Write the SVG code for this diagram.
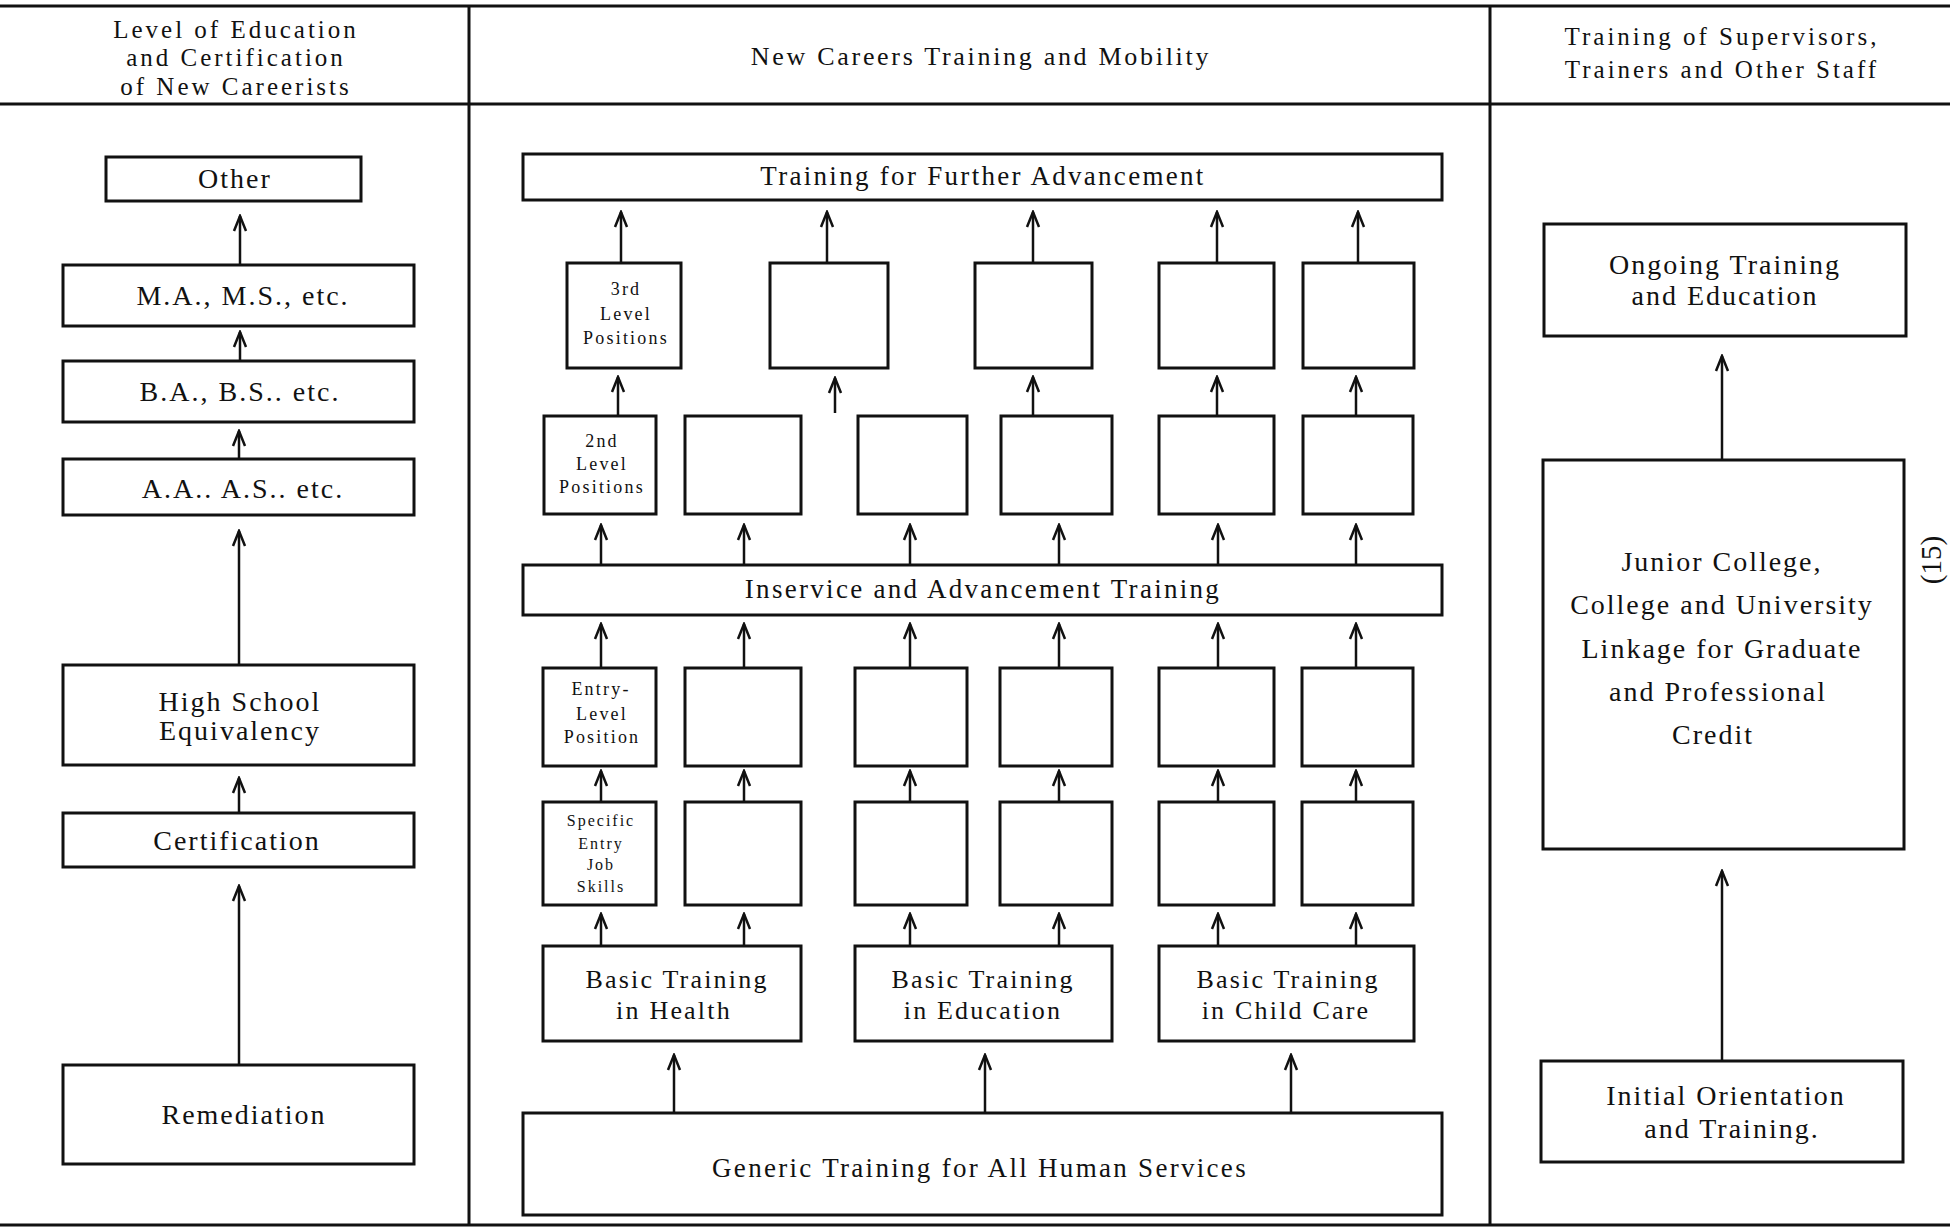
<svg xmlns="http://www.w3.org/2000/svg" width="1950" height="1229" viewBox="0 0 1950 1229">
<defs>
<style>
text{font-family:"Liberation Serif","Times New Roman",serif;fill:#111;text-anchor:middle}
.b{fill:#fff;stroke:#111;stroke-width:3}
.rule{stroke:#111;stroke-width:3;fill:none}
.c{stroke:#111;stroke-width:2.5;fill:none;marker-end:url(#ah)}
.H{font-size:25px;letter-spacing:3px}
.HC{font-size:26px;letter-spacing:2.7px}
.L{font-size:28px;letter-spacing:2px}
.M{font-size:27px;letter-spacing:2.3px}
.BT{font-size:26px;letter-spacing:2.2px}
.S{font-size:18px;letter-spacing:2.2px}
.SS{font-size:16px;letter-spacing:2px}
</style>
<marker id="ah" markerUnits="userSpaceOnUse" markerWidth="20" markerHeight="18" viewBox="-18 -9 20 18" refX="0" refY="0" orient="auto">
<path d="M-15,-6 L0,0 L-15,6" fill="none" stroke="#111" stroke-width="2.5"/>
</marker>
</defs>
<rect width="1950" height="1229" fill="#fff"/>

<g id="frame">
<line class="rule" x1="0" y1="6" x2="1950" y2="6"/>
<line class="rule" x1="0" y1="104" x2="1950" y2="104"/>
<line class="rule" x1="0" y1="1225" x2="1950" y2="1225"/>
<line class="rule" x1="469" y1="6" x2="469" y2="1225"/>
<line class="rule" x1="1490" y1="6" x2="1490" y2="1225"/>
</g>

<g id="headers">
<text class="H" x="236" y="38">Level of Education</text>
<text class="H" x="236" y="66">and Certification</text>
<text class="H" x="236" y="95">of New Careerists</text>
<text class="HC" x="981" y="65">New Careers Training and Mobility</text>
<text class="H" x="1722" y="45">Training of Supervisors,</text>
<text class="H" x="1722" y="78">Trainers and Other Staff</text>
<text font-size="29" transform="translate(1941,560) rotate(-90)" x="0" y="0">(15)</text>
</g>

<g id="left-column">
<g id="n-other"><rect class="b" x="106" y="157" width="255" height="44"/><text class="L" x="235" y="188">Other</text></g>
<g id="n-ma"><rect class="b" x="63" y="265" width="351" height="61"/><text class="L" x="243" y="305">M.A., M.S., etc.</text></g>
<g id="n-ba"><rect class="b" x="63" y="361" width="351" height="61"/><text class="L" x="240" y="401">B.A., B.S.. etc.</text></g>
<g id="n-aa"><rect class="b" x="63" y="459" width="351" height="56"/><text class="L" x="243" y="498">A.A.. A.S.. etc.</text></g>
<g id="n-hse"><rect class="b" x="63" y="665" width="351" height="100"/><text class="L" x="240" y="711">High School</text><text class="L" x="240" y="740">Equivalency</text></g>
<g id="n-cert"><rect class="b" x="63" y="813" width="351" height="54"/><text class="L" x="237" y="850">Certification</text></g>
<g id="n-rem"><rect class="b" x="63" y="1065" width="351" height="99"/><text class="L" x="244" y="1124">Remediation</text></g>
</g>

<g id="center-column">
<g id="n-tfa"><rect class="b" x="523" y="154" width="919" height="46"/><text class="M" x="983" y="185">Training for Further Advancement</text></g>

<g id="n-3rd-1"><rect class="b" x="567" y="263" width="114" height="105"/><text class="S" x="626" y="295">3rd</text><text class="S" x="626" y="320">Level</text><text class="S" x="626" y="344">Positions</text></g>
<g id="n-3rd-2"><rect class="b" x="770" y="263" width="118" height="105"/></g>
<g id="n-3rd-3"><rect class="b" x="975" y="263" width="117" height="105"/></g>
<g id="n-3rd-4"><rect class="b" x="1159" y="263" width="115" height="105"/></g>
<g id="n-3rd-5"><rect class="b" x="1303" y="263" width="111" height="105"/></g>

<g id="n-2nd-1"><rect class="b" x="544" y="416" width="112" height="98"/><text class="S" x="602" y="447">2nd</text><text class="S" x="602" y="470">Level</text><text class="S" x="602" y="493">Positions</text></g>
<g id="n-2nd-2"><rect class="b" x="685" y="416" width="116" height="98"/></g>
<g id="n-2nd-3"><rect class="b" x="858" y="416" width="109" height="98"/></g>
<g id="n-2nd-4"><rect class="b" x="1001" y="416" width="111" height="98"/></g>
<g id="n-2nd-5"><rect class="b" x="1159" y="416" width="115" height="98"/></g>
<g id="n-2nd-6"><rect class="b" x="1303" y="416" width="110" height="98"/></g>

<g id="n-inservice"><rect class="b" x="523" y="565" width="919" height="50"/><text class="M" x="983" y="598">Inservice and Advancement Training</text></g>

<g id="n-entry-1"><rect class="b" x="543" y="668" width="113" height="98"/><text class="S" x="601" y="695">Entry-</text><text class="S" x="602" y="720">Level</text><text class="S" x="602" y="743">Position</text></g>
<g id="n-entry-2"><rect class="b" x="685" y="668" width="116" height="98"/></g>
<g id="n-entry-3"><rect class="b" x="855" y="668" width="112" height="98"/></g>
<g id="n-entry-4"><rect class="b" x="1000" y="668" width="112" height="98"/></g>
<g id="n-entry-5"><rect class="b" x="1159" y="668" width="115" height="98"/></g>
<g id="n-entry-6"><rect class="b" x="1302" y="668" width="111" height="98"/></g>

<g id="n-spec-1"><rect class="b" x="543" y="802" width="113" height="103"/><text class="SS" x="601" y="826">Specific</text><text class="SS" x="601" y="849">Entry</text><text class="SS" x="601" y="870">Job</text><text class="SS" x="601" y="892">Skills</text></g>
<g id="n-spec-2"><rect class="b" x="685" y="802" width="116" height="103"/></g>
<g id="n-spec-3"><rect class="b" x="855" y="802" width="112" height="103"/></g>
<g id="n-spec-4"><rect class="b" x="1000" y="802" width="112" height="103"/></g>
<g id="n-spec-5"><rect class="b" x="1159" y="802" width="115" height="103"/></g>
<g id="n-spec-6"><rect class="b" x="1302" y="802" width="111" height="103"/></g>

<g id="n-basic-health"><rect class="b" x="543" y="946" width="258" height="95"/><text class="BT" x="677" y="988">Basic Training</text><text class="BT" x="674" y="1019">in Health</text></g>
<g id="n-basic-edu"><rect class="b" x="855" y="946" width="257" height="95"/><text class="BT" x="983" y="988">Basic Training</text><text class="BT" x="983" y="1019">in Education</text></g>
<g id="n-basic-child"><rect class="b" x="1159" y="946" width="255" height="95"/><text class="BT" x="1288" y="988">Basic Training</text><text class="BT" x="1286" y="1019">in Child Care</text></g>

<g id="n-generic"><rect class="b" x="523" y="1113" width="919" height="102"/><text class="M" x="980" y="1177">Generic Training for All Human Services</text></g>
</g>

<g id="right-column">
<g id="n-ongoing"><rect class="b" x="1544" y="224" width="362" height="112"/><text class="L" x="1725" y="274">Ongoing Training</text><text class="L" x="1725" y="305">and Education</text></g>
<g id="n-junior"><rect class="b" x="1543" y="460" width="361" height="389"/><text class="L" x="1722" y="571">Junior College,</text><text class="L" x="1722" y="614">College and University</text><text class="L" x="1722" y="658">Linkage for Graduate</text><text class="L" x="1718" y="701">and Professional</text><text class="L" x="1713" y="744">Credit</text></g>
<g id="n-initial"><rect class="b" x="1541" y="1061" width="362" height="101"/><text class="L" x="1726" y="1105">Initial Orientation</text><text class="L" x="1732" y="1138">and Training.</text></g>
</g>

<g id="connectors">
<line class="c" x1="240" y1="265" x2="240" y2="216"/>
<line class="c" x1="240" y1="361" x2="240" y2="332"/>
<line class="c" x1="239" y1="459" x2="239" y2="431"/>
<line class="c" x1="239" y1="665" x2="239" y2="531"/>
<line class="c" x1="239" y1="813" x2="239" y2="778"/>
<line class="c" x1="239" y1="1065" x2="239" y2="886"/>

<line class="c" x1="621" y1="263" x2="621" y2="212"/>
<line class="c" x1="827" y1="263" x2="827" y2="212"/>
<line class="c" x1="1033" y1="263" x2="1033" y2="212"/>
<line class="c" x1="1217" y1="263" x2="1217" y2="212"/>
<line class="c" x1="1358" y1="263" x2="1358" y2="212"/>

<line class="c" x1="618" y1="416" x2="618" y2="377"/>
<line class="c" x1="835" y1="413" x2="835" y2="378"/>
<line class="c" x1="1033" y1="416" x2="1033" y2="377"/>
<line class="c" x1="1217" y1="416" x2="1217" y2="377"/>
<line class="c" x1="1356" y1="416" x2="1356" y2="377"/>

<line class="c" x1="601" y1="565" x2="601" y2="525"/>
<line class="c" x1="744" y1="565" x2="744" y2="525"/>
<line class="c" x1="910" y1="565" x2="910" y2="525"/>
<line class="c" x1="1059" y1="565" x2="1059" y2="525"/>
<line class="c" x1="1218" y1="565" x2="1218" y2="525"/>
<line class="c" x1="1356" y1="565" x2="1356" y2="525"/>

<line class="c" x1="601" y1="668" x2="601" y2="624"/>
<line class="c" x1="744" y1="668" x2="744" y2="624"/>
<line class="c" x1="910" y1="668" x2="910" y2="624"/>
<line class="c" x1="1059" y1="668" x2="1059" y2="624"/>
<line class="c" x1="1218" y1="668" x2="1218" y2="624"/>
<line class="c" x1="1356" y1="668" x2="1356" y2="624"/>

<line class="c" x1="601" y1="802" x2="601" y2="771"/>
<line class="c" x1="744" y1="802" x2="744" y2="771"/>
<line class="c" x1="910" y1="802" x2="910" y2="771"/>
<line class="c" x1="1059" y1="802" x2="1059" y2="771"/>
<line class="c" x1="1218" y1="802" x2="1218" y2="771"/>
<line class="c" x1="1356" y1="802" x2="1356" y2="771"/>

<line class="c" x1="601" y1="946" x2="601" y2="914"/>
<line class="c" x1="744" y1="946" x2="744" y2="914"/>
<line class="c" x1="910" y1="946" x2="910" y2="914"/>
<line class="c" x1="1059" y1="946" x2="1059" y2="914"/>
<line class="c" x1="1218" y1="946" x2="1218" y2="914"/>
<line class="c" x1="1356" y1="946" x2="1356" y2="914"/>

<line class="c" x1="674" y1="1113" x2="674" y2="1055"/>
<line class="c" x1="985" y1="1113" x2="985" y2="1055"/>
<line class="c" x1="1291" y1="1113" x2="1291" y2="1055"/>

<line class="c" x1="1722" y1="460" x2="1722" y2="356"/>
<line class="c" x1="1722" y1="1061" x2="1722" y2="871"/>
</g>
</svg>
